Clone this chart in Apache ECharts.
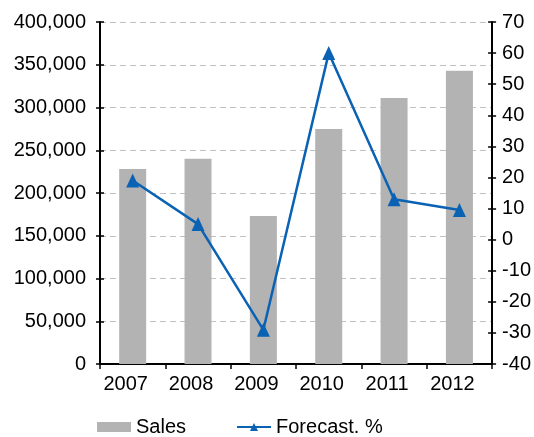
<!DOCTYPE html>
<html>
<head>
<meta charset="utf-8">
<script src="https://cdn.jsdelivr.net/npm/echarts@6/dist/echarts.min.js"></script>
<style>html,body{margin:0;padding:0;background:#fff}#c{width:534px;height:437px}</style>
</head>
<body>
<div id="c"></div>
<script>
var categories = ['2007', '2008', '2009', '2010', '2011', '2012'];
var sales = [228000, 240000, 173000, 275000, 311000, 343000];
var forecast = [19, 5, -29, 60, 13, 9.5];

var chart = echarts.init(document.getElementById('c'), null, {renderer: 'canvas'});
var font = 'Liberation Sans, Arial, sans-serif';
var axisLine = {show: true, lineStyle: {color: '#000', width: 2}};
chart.setOption({
  animation: false,
  textStyle: {fontFamily: font},
  grid: {left: 100, right: 41, top: 22, bottom: 73, containLabel: false},
  legend: {
    left: 97, top: 417, padding: 0, itemWidth: 34, itemHeight: 10, itemGap: 50,
    textStyle: {fontSize: 20, color: '#000', fontFamily: font},
    data: [{name: 'Sales', icon: 'rect'}, {name: 'Forecast. %'}]
  },
  xAxis: {
    type: 'category', data: categories,
    axisLine: axisLine,
    axisTick: {show: true, length: 5, lineStyle: {color: '#000', width: 1.5}},
    axisLabel: {fontSize: 20, color: '#000', margin: 10, fontFamily: font, padding: [0, 14, 0, 0]}
  },
  yAxis: [
    {
      type: 'value', min: 0, max: 400000, interval: 50000, position: 'left',
      axisLine: axisLine,
      axisTick: {show: true, length: 4, lineStyle: {color: '#000', width: 1.5}},
      axisLabel: {fontSize: 20, color: '#000', margin: 14, fontFamily: font,
        formatter: function (v) { return v.toLocaleString('en-US'); }},
      splitLine: {show: true, lineStyle: {color: '#c0c0c0', type: [6, 4], width: 1}}
    },
    {
      type: 'value', min: -40, max: 70, interval: 10, position: 'right',
      axisLine: axisLine,
      axisTick: {show: true, length: 4, lineStyle: {color: '#000', width: 1.5}},
      axisLabel: {fontSize: 20, color: '#000', margin: 10, fontFamily: font},
      splitLine: {show: false}
    },
    {
      type: 'value', min: 0, max: 400000, interval: 50000, position: 'left',
      axisLine: {show: false},
      axisTick: {show: true, inside: true, length: 4, lineStyle: {color: '#000', width: 1.5}},
      axisLabel: {show: false}, splitLine: {show: false}
    },
    {
      type: 'value', min: -40, max: 70, interval: 10, position: 'right',
      axisLine: {show: false},
      axisTick: {show: true, inside: true, length: 4, lineStyle: {color: '#000', width: 1.5}},
      axisLabel: {show: false}, splitLine: {show: false}
    }
  ],
  series: [
    {
      name: 'Sales', type: 'bar', data: sales, yAxisIndex: 0, barWidth: 27,
      itemStyle: {color: '#b3b3b3'}
    },
    {
      name: 'Forecast. %', type: 'line', data: forecast, yAxisIndex: 1,
      symbol: 'triangle', symbolSize: [13, 14], z: 5,
      lineStyle: {color: '#0a62b4', width: 2.5},
      itemStyle: {color: '#0a62b4'}
    }
  ]
});
</script>
</body>
</html>
